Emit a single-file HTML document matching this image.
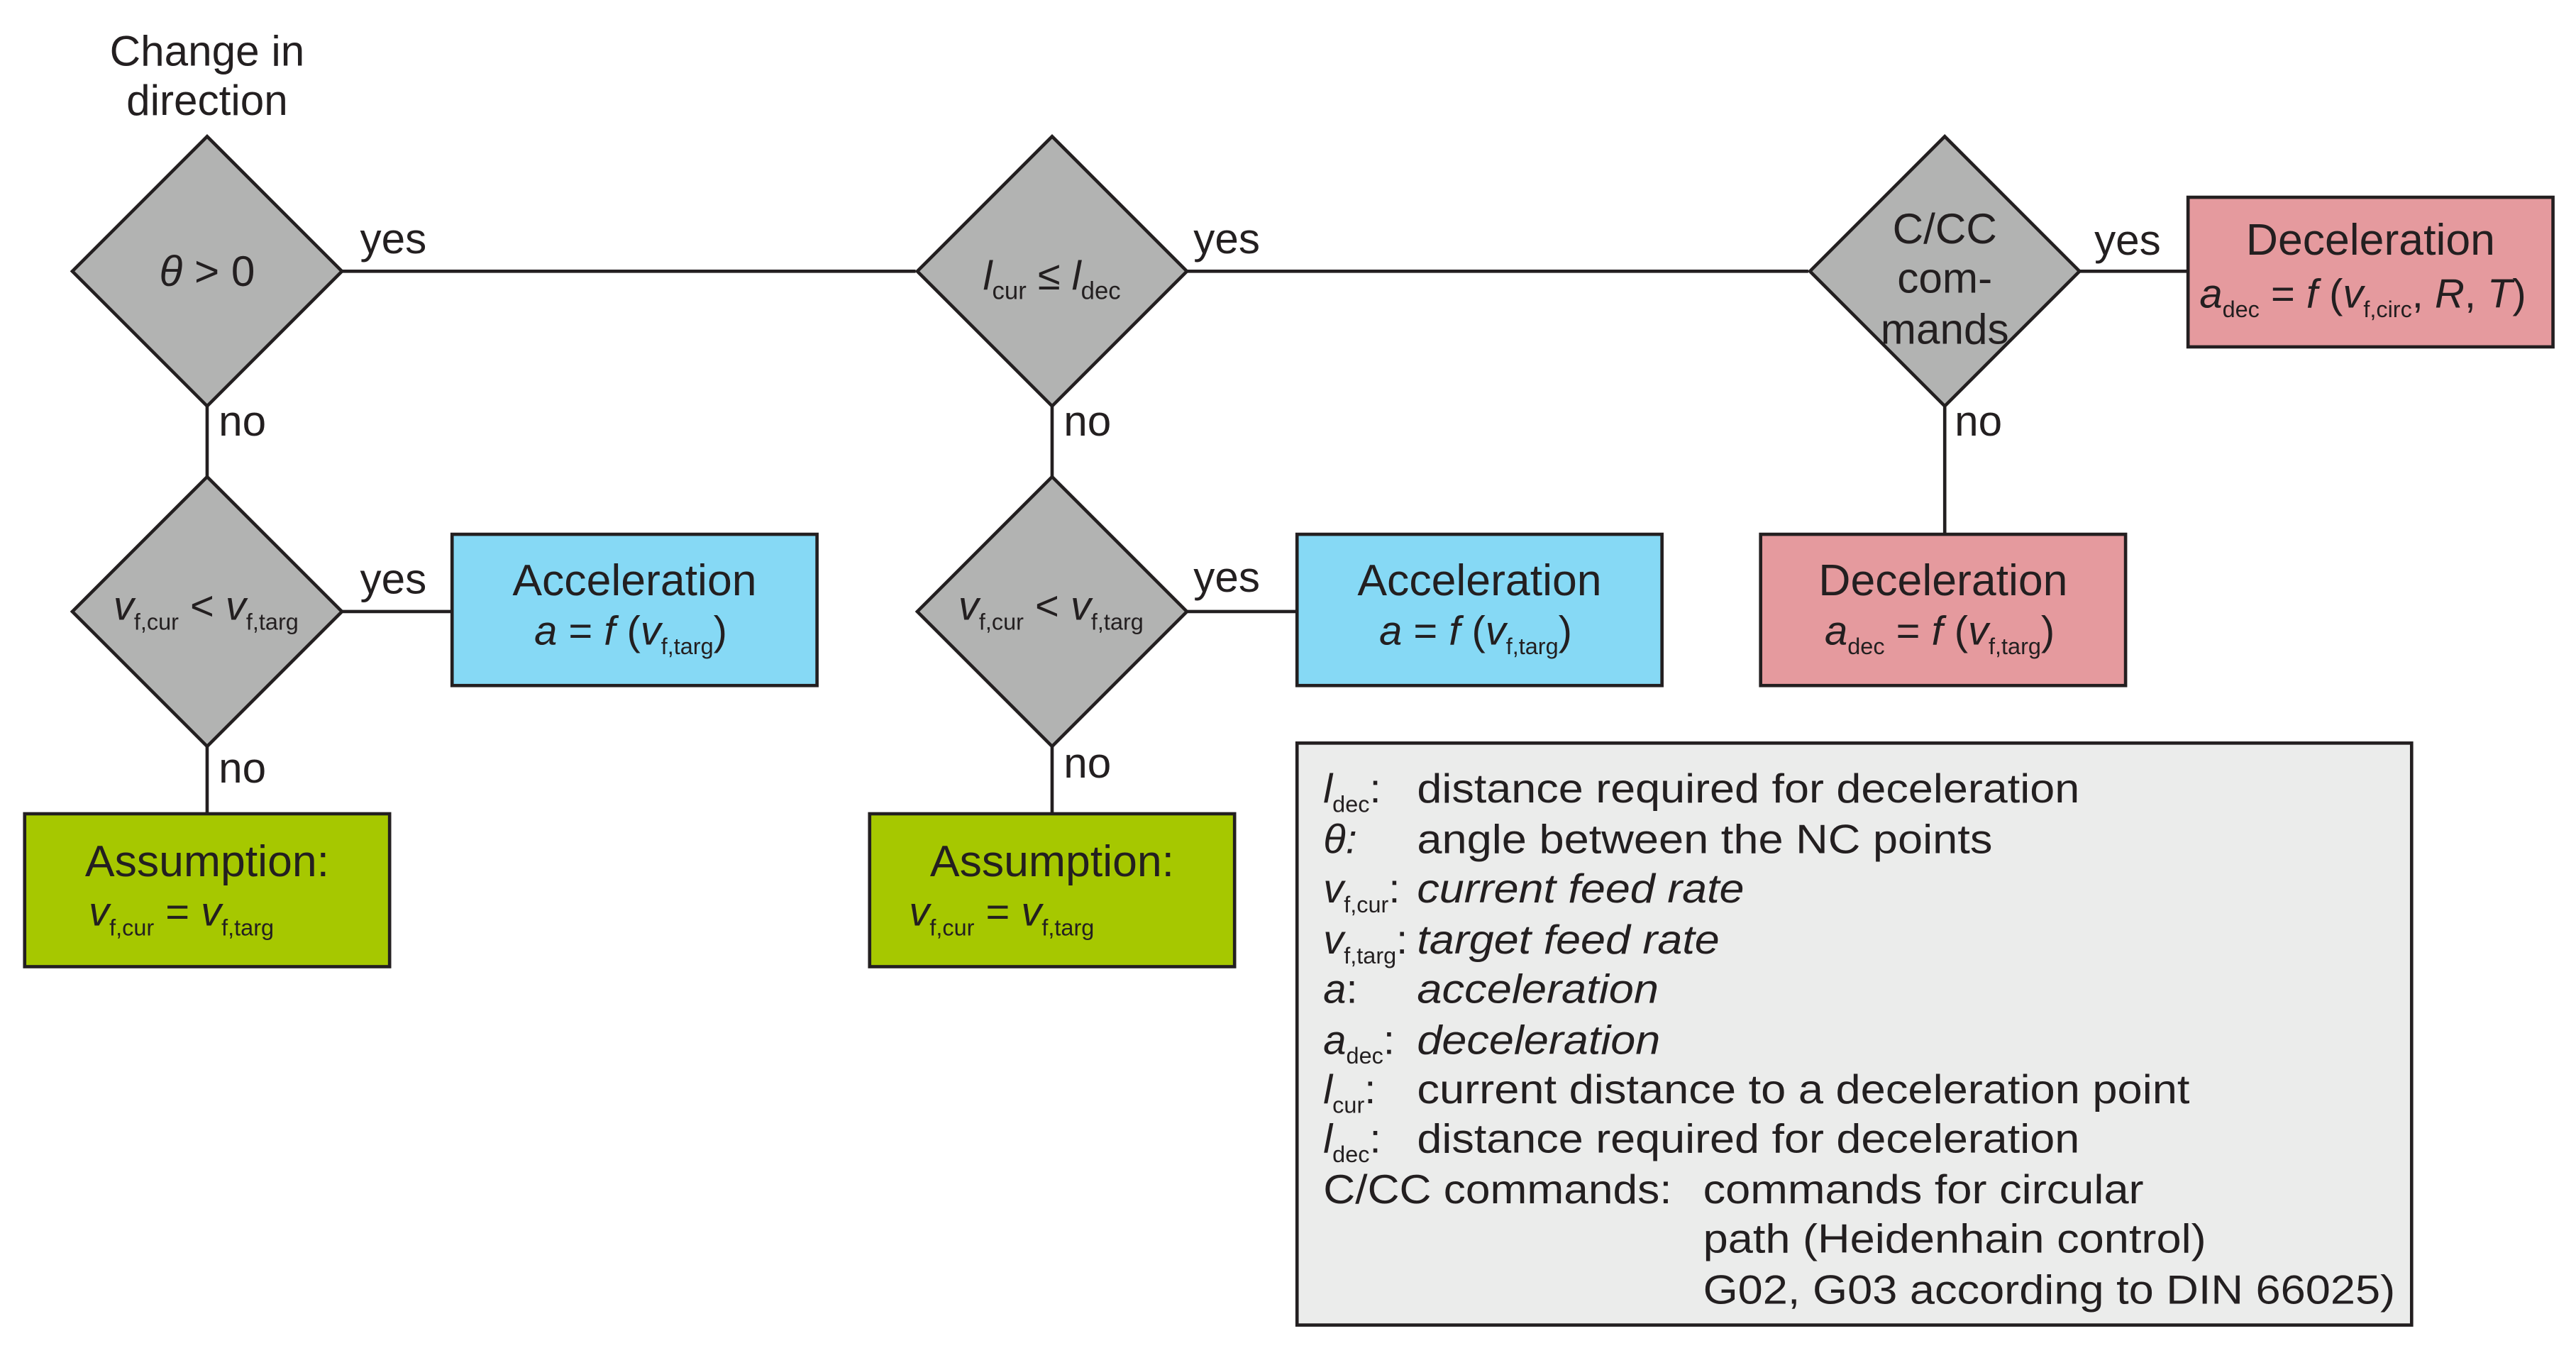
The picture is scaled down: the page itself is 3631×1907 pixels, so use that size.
<!DOCTYPE html>
<html><head><meta charset="utf-8"><style>html,body{margin:0;padding:0;background:#fff}svg{display:block}</style></head>
<body>
<svg width="3631" height="1907" viewBox="0 0 1567 823" preserveAspectRatio="none" xmlns="http://www.w3.org/2000/svg" font-family="Liberation Sans, sans-serif" fill="#231f20">
<g stroke="#231f20" stroke-width="2" fill="none">
<line x1="208" y1="165" x2="557" y2="165"/>
<line x1="722" y1="165" x2="1100" y2="165"/>
<line x1="1265" y1="165" x2="1331" y2="165"/>
<line x1="126" y1="247" x2="126" y2="290"/>
<line x1="640" y1="247" x2="640" y2="290"/>
<line x1="1183" y1="247" x2="1183" y2="325"/>
<line x1="208" y1="372" x2="275" y2="372"/>
<line x1="722" y1="372" x2="789" y2="372"/>
<line x1="126" y1="454" x2="126" y2="495"/>
<line x1="640" y1="454" x2="640" y2="495"/>
</g>
<g stroke="#231f20" stroke-width="2" fill="#b2b3b2">
<polygon points="126,83 208,165 126,247 44,165"/>
<polygon points="640,83 722,165 640,247 558,165"/>
<polygon points="1183,83 1265,165 1183,247 1101,165"/>
<polygon points="126,290 208,372 126,454 44,372"/>
<polygon points="640,290 722,372 640,454 558,372"/>
<rect x="275" y="325" width="222" height="92" fill="#86d9f5"/>
<rect x="789" y="325" width="222" height="92" fill="#86d9f5"/>
<rect x="15" y="495" width="222" height="93" fill="#a6c800"/>
<rect x="529" y="495" width="222" height="93" fill="#a6c800"/>
<rect x="1331" y="120" width="222" height="91" fill="#e59a9e"/>
<rect x="1071" y="325" width="222" height="92" fill="#e59a9e"/>
<rect x="789" y="452" width="678" height="354" fill="#ebeceb"/>
</g>
<g font-size="26" text-anchor="middle">
<text x="126" y="40">Change in</text>
<text x="126" y="70">direction</text>
<text x="126" y="174"><tspan font-style="italic">θ</tspan> &gt; 0</text>
<text x="1183" y="148">C/CC</text>
<text x="1183" y="178">com-</text>
<text x="1183" y="209">mands</text>
<text x="386" y="362" font-size="27">Acceleration</text>
<text x="900" y="362" font-size="27">Acceleration</text>
<text x="1182" y="362" font-size="27">Deceleration</text>
<text x="1442" y="155" font-size="27">Deceleration</text>
<text x="126" y="533" font-size="27">Assumption:</text>
<text x="640" y="533" font-size="27">Assumption:</text>
</g>
<g font-size="26">
<text x="219" y="154">yes</text>
<text x="726" y="154">yes</text>
<text x="1274" y="155">yes</text>
<text x="219" y="361">yes</text>
<text x="726" y="360">yes</text>
<text x="133" y="265">no</text>
<text x="647" y="265">no</text>
<text x="1189" y="265">no</text>
<text x="133" y="476">no</text>
<text x="647" y="473">no</text>
</g>
<g font-size="25">
<text x="598" y="176"><tspan font-style="italic">l</tspan><tspan font-size="15" dy="6">cur</tspan><tspan dy="-6"> ≤ </tspan><tspan font-style="italic">l</tspan><tspan font-size="15" dy="6">dec</tspan></text>
<text x="69" y="377"><tspan font-style="italic">v</tspan><tspan font-size="14" dy="6">f,cur</tspan><tspan dy="-6"> &lt; </tspan><tspan font-style="italic">v</tspan><tspan font-size="14" dy="6">f,targ</tspan></text>
<text x="583" y="377"><tspan font-style="italic">v</tspan><tspan font-size="14" dy="6">f,cur</tspan><tspan dy="-6"> &lt; </tspan><tspan font-style="italic">v</tspan><tspan font-size="14" dy="6">f,targ</tspan></text>
<text x="325" y="392"><tspan font-style="italic">a</tspan> = <tspan font-style="italic">f</tspan> (<tspan font-style="italic">v</tspan><tspan font-size="14" dy="6">f,targ</tspan><tspan dy="-6">)</tspan></text>
<text x="839" y="392"><tspan font-style="italic">a</tspan> = <tspan font-style="italic">f</tspan> (<tspan font-style="italic">v</tspan><tspan font-size="14" dy="6">f,targ</tspan><tspan dy="-6">)</tspan></text>
<text x="1110" y="392"><tspan font-style="italic">a</tspan><tspan font-size="14" dy="6">dec</tspan><tspan dy="-6"> = </tspan><tspan font-style="italic">f</tspan> (<tspan font-style="italic">v</tspan><tspan font-size="14" dy="6">f,targ</tspan><tspan dy="-6">)</tspan></text>
<text x="1338" y="187"><tspan font-style="italic">a</tspan><tspan font-size="14" dy="6">dec</tspan><tspan dy="-6"> = </tspan><tspan font-style="italic">f</tspan> (<tspan font-style="italic">v</tspan><tspan font-size="14" dy="6">f,circ</tspan><tspan dy="-6">, </tspan><tspan font-style="italic">R</tspan>, <tspan font-style="italic">T</tspan>)</text>
<text x="54" y="563"><tspan font-style="italic">v</tspan><tspan font-size="14" dy="6">f,cur</tspan><tspan dy="-6"> = </tspan><tspan font-style="italic">v</tspan><tspan font-size="14" dy="6">f,targ</tspan></text>
<text x="553" y="563"><tspan font-style="italic">v</tspan><tspan font-size="14" dy="6">f,cur</tspan><tspan dy="-6"> = </tspan><tspan font-style="italic">v</tspan><tspan font-size="14" dy="6">f,targ</tspan></text>
</g>
<g font-size="25">
<text x="805" y="488"><tspan font-style="italic">l</tspan><tspan font-size="14" dy="6">dec</tspan><tspan dy="-6">:</tspan></text>
<text x="862" y="488" textLength="403" lengthAdjust="spacingAndGlyphs">distance required for deceleration</text>
<text x="805" y="519" font-style="italic">θ:</text>
<text x="862" y="519" textLength="350" lengthAdjust="spacingAndGlyphs">angle between the NC points</text>
<text x="805" y="549"><tspan font-style="italic">v</tspan><tspan font-size="14" dy="6">f,cur</tspan><tspan dy="-6">:</tspan></text>
<text x="862" y="549" font-style="italic" textLength="199" lengthAdjust="spacingAndGlyphs">current feed rate</text>
<text x="805" y="580"><tspan font-style="italic">v</tspan><tspan font-size="14" dy="6">f,targ</tspan><tspan dy="-6">:</tspan></text>
<text x="862" y="580" font-style="italic" textLength="184" lengthAdjust="spacingAndGlyphs">target feed rate</text>
<text x="805" y="610" font-style="italic">a<tspan font-style="normal">:</tspan></text>
<text x="862" y="610" font-style="italic" textLength="147" lengthAdjust="spacingAndGlyphs">acceleration</text>
<text x="805" y="641"><tspan font-style="italic">a</tspan><tspan font-size="14" dy="6">dec</tspan><tspan dy="-6">:</tspan></text>
<text x="862" y="641" font-style="italic" textLength="148" lengthAdjust="spacingAndGlyphs">deceleration</text>
<text x="805" y="671"><tspan font-style="italic">l</tspan><tspan font-size="14" dy="6">cur</tspan><tspan dy="-6">:</tspan></text>
<text x="862" y="671" textLength="470" lengthAdjust="spacingAndGlyphs">current distance to a deceleration point</text>
<text x="805" y="701"><tspan font-style="italic">l</tspan><tspan font-size="14" dy="6">dec</tspan><tspan dy="-6">:</tspan></text>
<text x="862" y="701" textLength="403" lengthAdjust="spacingAndGlyphs">distance required for deceleration</text>
<text x="805" y="732" textLength="212" lengthAdjust="spacingAndGlyphs">C/CC commands:</text>
<text x="1036" y="732" textLength="268" lengthAdjust="spacingAndGlyphs">commands for circular</text>
<text x="1036" y="762" textLength="306" lengthAdjust="spacingAndGlyphs">path (Heidenhain control)</text>
<text x="1036" y="793" textLength="421" lengthAdjust="spacingAndGlyphs">G02, G03 according to DIN 66025)</text>
</g>
</svg>
</body></html>
